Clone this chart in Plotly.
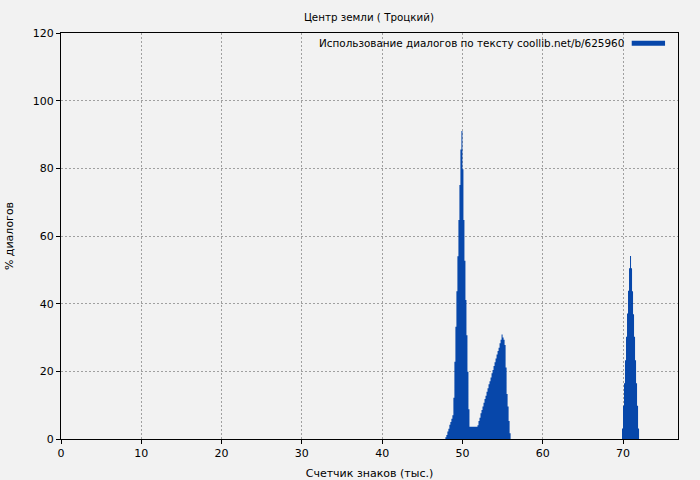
import plotly.graph_objects as go

# Bin width (thousand characters)
bin_width = 0.125

# Segment 1 (around 48-56 thousand chars)
seg1_start = 47.875
seg1_values = [0.5, 1.2, 2.2, 3.0, 4.2, 5.0, 6.0, 7.0,
               12.2, 22.8, 33.2, 43.7, 54.0, 64.7, 75.1, 85.6,
               91.0,
               79.7, 64.7, 52.7, 41.1, 30.7, 19.9, 8.8,
               3.6, 3.6, 3.6, 3.6, 3.6, 3.6, 3.6, 3.6,
               4.1, 5.3, 6.3, 7.6, 8.6, 9.6, 10.7, 11.8, 12.8, 14.0, 15.0, 16.2,
               17.1, 18.2, 19.4, 20.4, 21.6, 22.7, 23.8, 25.0, 26.0, 27.0, 28.3,
               29.3, 30.9,
               30.0, 29.3, 27.8, 21.1, 13.3, 9.6, 5.3, 1.7]

# Segment 2 (around 70-72 thousand chars)
seg2_start = 69.875
seg2_values = [3.1, 9.8, 16.5, 23.3, 30.2, 37.1, 43.8, 50.5, 54.1,
               50.5, 43.7, 36.9, 30.2, 23.3, 16.5, 9.8, 3.1]

x_ticks = [0, 10, 20, 30, 40, 50, 60, 70]
y_ticks = [0, 20, 40, 60, 80, 100, 120]

title_text = "Центр земли ( Троцкий)"
legend_text = "Использование диалогов по тексту coollib.net/b/625960"
x_title = "Счетчик знаков (тыс.)"
y_title = "% диалогов"

bar_color = "#0747aa"
bg = "#f2f2f2"
font_family = "DejaVu Sans"

fig = go.Figure()

for start, vals in [(seg1_start, seg1_values), (seg2_start, seg2_values)]:
    xs = [start + i * bin_width for i in range(len(vals))] + [start + len(vals) * bin_width]
    ys = list(vals) + [0]
    fig.add_trace(go.Scatter(
        x=xs, y=ys, mode="lines", line=dict(shape="hv", width=0, color=bar_color),
        fill="tozeroy", fillcolor=bar_color, showlegend=False, hoverinfo="skip"))

axis_common = dict(
    showline=True, linecolor="black", linewidth=1, mirror=True,
    ticks="outside", ticklen=4, tickcolor="black",
    showgrid=True, gridcolor="#a0a0a0", griddash="2px,2px", gridwidth=1,
    zeroline=False, tickfont=dict(family=font_family, size=11, color="black"),
    automargin=False,
)

fig.update_xaxes(range=[0, 76.85], tickvals=x_ticks,
                 title=dict(text=x_title, font=dict(family=font_family, size=11, color="black"), standoff=14),
                 **axis_common)
fig.update_yaxes(range=[0, 120], tickvals=y_ticks,
                 title=dict(text=y_title, font=dict(family=font_family, size=11, color="black"), standoff=16),
                 **axis_common)

fig.update_layout(
    width=700, height=480,
    paper_bgcolor=bg, plot_bgcolor=bg,
    margin=dict(l=61, r=22, t=33, b=41, autoexpand=False),
    title=dict(text=title_text, x=0.527, xanchor="center", y=0.963, yanchor="middle",
               font=dict(family=font_family, size=10.3, color="black")),
    showlegend=False,
)

fig.add_annotation(text=legend_text, xref="paper", yref="paper", x=0.916, y=0.975,
                   xanchor="right", yanchor="middle", showarrow=False,
                   font=dict(family=font_family, size=10.4, color="black"))
fig.add_shape(type="line", xref="paper", yref="paper", x0=0.925, x1=0.979, y0=0.975, y1=0.975,
              line=dict(color=bar_color, width=5))

fig.write_html("out.html", config={"displayModeBar": False},
               post_script="document.body.style.margin='0';document.body.style.background='%s';" % bg)
